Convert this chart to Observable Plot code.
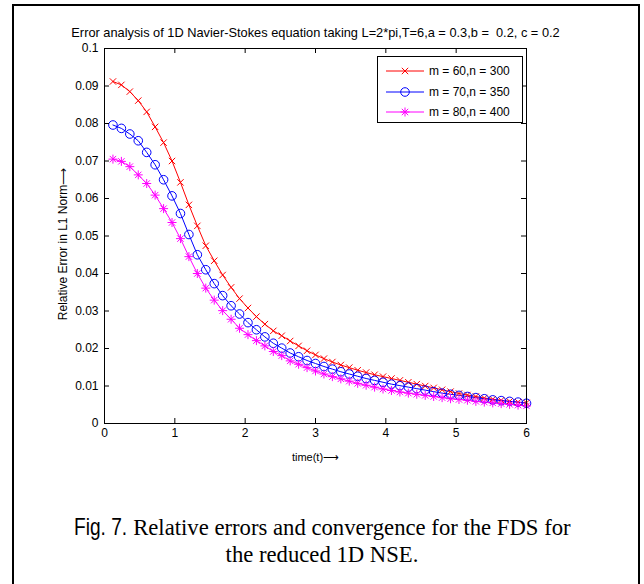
<!DOCTYPE html>
<html><head><meta charset="utf-8">
<script src="https://cdn.jsdelivr.net/npm/d3@7"></script>
<script src="https://cdn.jsdelivr.net/npm/@observablehq/plot@0.6"></script>
<style>
body{margin:0;background:#fff;width:644px;height:584px;overflow:hidden;position:relative;font-family:"Liberation Sans",Arial,sans-serif}
#frame{position:absolute;left:12px;top:4px;width:624px;height:640px;border:2px solid #000;border-bottom:none}
#chart{position:absolute;left:0;top:0}
#legend{position:absolute;left:377px;top:56px;width:144px;height:65px;border:1px solid #000;background:#fff}
#legend svg{display:block}
#caption{position:absolute;left:0;width:644px;top:513px;text-align:center;font-family:"Liberation Serif","Times New Roman",serif;font-size:22.7px;line-height:27px;color:#000}
#caption .fig{display:inline-block;font-family:"Liberation Sans","Arial Narrow",sans-serif;font-size:24.5px;transform:scaleX(0.78);transform-origin:right center;margin-left:-14px}
</style></head>
<body>
<div id="frame"></div>
<div id="chart"></div>
<div id="legend"></div>
<div id="caption"><span class="fig">Fig. 7.</span> Relative errors and convergence for the FDS for<br>the reduced 1D NSE.</div>
<script>
const times = [0.12,0.24,0.36,0.48,0.60,0.72,0.84,0.96,1.08,1.20,1.32,1.44,1.56,1.68,1.80,1.92,2.04,2.16,2.28,2.40,2.52,2.64,2.76,2.88,3.00,3.12,3.24,3.36,3.48,3.60,3.72,3.84,3.96,4.08,4.20,4.32,4.44,4.56,4.68,4.80,4.92,5.04,5.16,5.28,5.40,5.52,5.64,5.76,5.88,6.00];
const err60 = [0.0912,0.0903,0.0885,0.0861,0.0831,0.0791,0.0749,0.0700,0.0643,0.0583,0.0527,0.0474,0.0434,0.0396,0.0363,0.0333,0.0308,0.0285,0.0265,0.0247,0.0234,0.0220,0.0207,0.0194,0.0183,0.0173,0.0164,0.0156,0.0149,0.0142,0.0136,0.0130,0.0125,0.0120,0.0115,0.0110,0.0105,0.0100,0.0095,0.0090,0.0085,0.0080,0.0076,0.0072,0.0068,0.0065,0.0062,0.0059,0.0057,0.0055];
const err70 = [0.0796,0.0787,0.0772,0.0754,0.0723,0.0690,0.0650,0.0607,0.0560,0.0504,0.0450,0.0410,0.0373,0.0341,0.0314,0.0292,0.0269,0.0250,0.0231,0.0214,0.0201,0.0188,0.0178,0.0168,0.0160,0.0152,0.0145,0.0138,0.0132,0.0126,0.0120,0.0115,0.0110,0.0105,0.0101,0.0097,0.0093,0.0089,0.0085,0.0081,0.0078,0.0075,0.0072,0.0069,0.0066,0.0063,0.0061,0.0059,0.0057,0.0054];
const err80 = [0.0705,0.0699,0.0685,0.0663,0.0640,0.0609,0.0573,0.0536,0.0493,0.0445,0.0400,0.0361,0.0329,0.0301,0.0278,0.0254,0.0237,0.0221,0.0207,0.0192,0.0181,0.0167,0.0158,0.0149,0.0140,0.0132,0.0125,0.0119,0.0113,0.0107,0.0102,0.0097,0.0092,0.0088,0.0084,0.0081,0.0078,0.0075,0.0072,0.0069,0.0066,0.0064,0.0062,0.0059,0.0057,0.0055,0.0053,0.0051,0.0049,0.0047];
const seriesNames = ["m = 60,n = 300","m = 70,n = 350","m = 80,n = 400"];
const seriesColors = ["#ff0000","#0000ff","#ff00ff"];
const xTicks = [0,1,2,3,4,5,6];
const yTicks = [0,0.01,0.02,0.03,0.04,0.05,0.06,0.07,0.08,0.09,0.1];
const yTickLabels = ["0","0.01","0.02","0.03","0.04","0.05","0.06","0.07","0.08","0.09","0.1"];
const titleText = "Error analysis of 1D Navier-Stokes equation taking L=2*pi,T=6,a = 0.3,b =  0.2, c = 0.2";
const xLabel = "time(t)\u27F6";
const yLabel = "Relative Error in L1 Norm\u27F6";

const W=644,H=470,mL=104,mR=118,mT=48,mB=47;
const pw=W-mL-mR, ph=H-mT-mB;
const allVals=[err60,err70,err80];
const rows = allVals.flatMap((vals,si)=>times.map((t,i)=>({t,v:vals[i],name:seriesNames[si]})));
const sub = n => rows.filter(d=>d.name===n);

const chart = Plot.plot({
  width:W,height:H,marginLeft:mL,marginRight:mR,marginTop:mT,marginBottom:mB,
  style:{fontFamily:'"Liberation Sans",Arial,sans-serif',fontSize:"12px",color:"#000",background:"transparent",overflow:"visible"},
  x:{domain:[0,6]},
  y:{domain:[0,0.1]},
  color:{domain:seriesNames,range:seriesColors},
  marks:[
    Plot.line(rows,{x:"t",y:"v",stroke:"name",z:"name",strokeWidth:1}),
    Plot.dot(sub(seriesNames[0]),{x:"t",y:"v",symbol:"times",r:3,stroke:seriesColors[0],strokeWidth:1}),
    Plot.dot(sub(seriesNames[1]),{x:"t",y:"v",symbol:"circle",r:4.3,stroke:seriesColors[1],fill:"none",strokeWidth:1}),
    Plot.dot(sub(seriesNames[2]),{x:"t",y:"v",symbol:"plus",r:3,stroke:seriesColors[2],strokeWidth:1}),
    Plot.dot(sub(seriesNames[2]),{x:"t",y:"v",symbol:"times",r:3,stroke:seriesColors[2],strokeWidth:1}),
    Plot.frame({stroke:"#000",strokeWidth:1}),
    Plot.tickX(xTicks,{x:d=>d,stroke:"#000",insetTop:ph-5}),
    Plot.tickX(xTicks,{x:d=>d,stroke:"#000",insetBottom:ph-5}),
    Plot.tickY(yTicks,{y:d=>d,stroke:"#000",insetRight:pw-5}),
    Plot.tickY(yTicks,{y:d=>d,stroke:"#000",insetLeft:pw-5}),
    Plot.axisX(xTicks,{tickSize:0,tickPadding:5,fontSize:12,label:null,tickFormat:d=>String(d)}),
    Plot.axisY(yTicks,{tickSize:0,tickPadding:6,fontSize:12,label:null,tickFormat:(d,i)=>yTickLabels[yTicks.indexOf(d)]}),
    Plot.text([titleText],{frameAnchor:"top",dy:-16,lineAnchor:"middle",textAnchor:"middle",fontSize:12.8,fill:"#000",text:d=>d}),
    Plot.text([xLabel],{frameAnchor:"bottom",dy:34,lineAnchor:"middle",fontSize:11,fill:"#000",text:d=>d}),
    Plot.text([yLabel],{frameAnchor:"left",dx:-41,dy:8,rotate:-90,textAnchor:"middle",lineAnchor:"middle",fontSize:12,fill:"#000",text:d=>d})
  ]
});
document.getElementById("chart").appendChild(chart);

// legend
const lg = d3.select("#legend").append("svg").attr("width",144).attr("height",65);
const ys=[14,35,55];
seriesNames.forEach((n,i)=>{
  const g=lg.append("g").attr("transform",`translate(0,${ys[i]})`);
  g.append("line").attr("x1",8).attr("x2",46).attr("y1",0).attr("y2",0).attr("stroke",seriesColors[i]).attr("stroke-width",1);
  const sym = i===0?[d3.symbolTimes]:i===1?[d3.symbolCircle]:[d3.symbolPlus,d3.symbolTimes];
  const rr = i===1?4.3:3;
  sym.forEach(s=>g.append("path").attr("transform","translate(27,0)").attr("d",d3.symbol(s,Math.PI*rr*rr)()).attr("fill","none").attr("stroke",seriesColors[i]).attr("stroke-width",1));
  g.append("text").attr("x",51).attr("y",0).attr("dy","0.35em").attr("font-size",12).attr("font-family",'"Liberation Sans",Arial,sans-serif').text(n);
});
</script>
</body></html>
